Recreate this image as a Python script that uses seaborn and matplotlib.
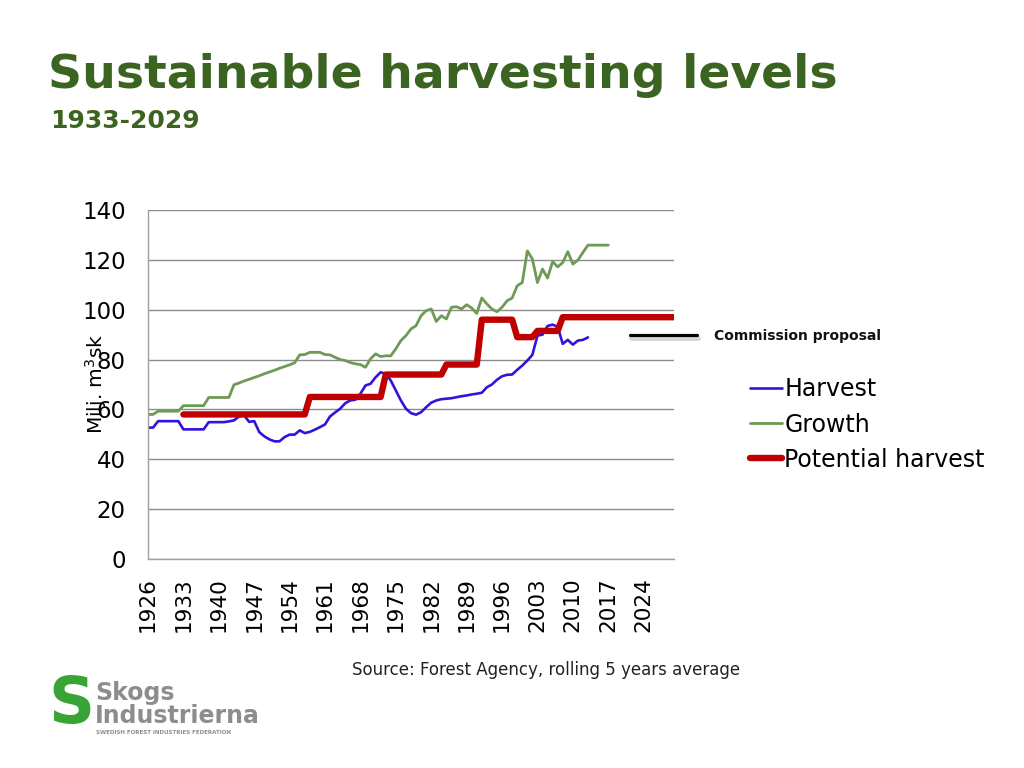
import numpy as np
import pandas as pd
import matplotlib
matplotlib.use("Agg")
import matplotlib.pyplot as plt
import seaborn as sns
from matplotlib.lines import Line2D

# ---------------- data ----------------
growth_years = list(range(1926, 2018))
growth_vals = [
    58.0, 58.0, 59.3, 59.3, 59.3, 59.3, 59.3, 61.5, 61.5, 61.5,   # 1926-1935
    61.5, 61.5, 64.8, 64.8, 64.8, 64.8, 64.8, 69.9, 70.6, 71.4,   # 1936-1945
    72.1, 72.8, 73.5, 74.3, 75.0, 75.7, 76.5, 77.2, 77.9, 78.7,   # 1946-1955
    81.9, 82.0, 82.9, 82.9, 82.9, 82.0, 81.9, 80.9, 80.0, 79.6,   # 1956-1965
    78.8, 78.3, 78.0, 76.9, 80.3, 82.3, 81.2, 81.5, 81.5, 84.3,   # 1966-1975
    87.6, 89.6, 92.3, 93.6, 97.6, 99.6, 100.3, 95.3, 97.6, 96.3,  # 1976-1985
    101.0, 101.2, 100.3, 102.0, 100.7, 98.5, 104.7, 102.3, 100.3, 99.2,  # 1986-1995
    101.0, 103.6, 104.7, 109.6, 110.9, 123.6, 120.3, 110.9, 116.3, 112.7,  # 1996-2005
    119.3, 117.2, 118.9, 123.3, 118.3, 119.9, 123.0, 125.9, 125.9, 125.9,  # 2006-2015
    125.9, 125.9,                                                   # 2016-2017
]

harvest_years = list(range(1926, 2014))
harvest_vals = [
    52.7, 52.7, 55.3, 55.3, 55.3, 55.3, 55.3, 52.0, 52.0, 52.0,   # 1926-1935
    52.0, 52.0, 54.9, 54.9, 54.9, 54.9, 55.2, 55.6, 57.2, 57.6,   # 1936-1945
    55.0, 55.3, 50.9, 49.2, 48.0, 47.2, 47.2, 48.9, 49.9, 49.9,   # 1946-1955
    51.6, 50.5, 51.0, 51.9, 52.9, 54.0, 57.2, 58.8, 60.3, 62.5,   # 1956-1965
    63.6, 63.9, 66.3, 69.6, 70.3, 72.9, 74.9, 74.3, 71.6, 67.6,   # 1966-1975
    63.6, 60.3, 58.5, 57.9, 58.9, 60.9, 62.7, 63.6, 64.1, 64.3,   # 1976-1985
    64.5, 64.9, 65.3, 65.6, 66.0, 66.3, 66.7, 68.9, 70.0, 71.9,   # 1986-1995
    73.3, 73.9, 74.0, 75.9, 77.6, 79.6, 81.9, 89.6, 90.0, 93.5,   # 1996-2005
    94.0, 93.2, 86.3, 87.9, 86.0, 87.6, 87.9, 88.9,               # 2006-2013
]

potential_years = list(range(1933, 2031))
potential_vals = (
    [58.0] * (1958 - 1933)      # 1933-1957
    + [65.0] * (1973 - 1958)    # 1958-1972
    + [74.0] * (1985 - 1973)    # 1973-1984
    + [78.0] * (1992 - 1985)    # 1985-1991
    + [96.0] * (1999 - 1992)    # 1992-1998
    + [89.0] * (2003 - 1999)    # 1999-2002
    + [91.5] * (2008 - 2003)    # 2003-2007
    + [97.0] * (2031 - 2008)    # 2008-2030
)

x_ticks = list(range(1926, 2025, 7))
y_ticks = [0, 20, 40, 60, 80, 100, 120, 140]

series_names = ["Harvest", "Growth", "Potential harvest"]
series_colors = ["#3312dd", "#6f9a55", "#c00000"]
series_widths = [1.9, 2.0, 4.6]

title = "Sustainable harvesting levels"
subtitle = "1933-2029"
source_text = "Source: Forest Agency, rolling 5 years average"

# ---------------- figure ----------------
sns.set_theme(style="white")
plt.rcParams["font.family"] = ["DejaVu Sans"]

fig = plt.figure(figsize=(10.24, 7.68), dpi=100)
fig.patch.set_facecolor("white")
ax = fig.add_axes([148 / 1024, 1 - 559 / 768, (674 - 148) / 1024, (559 - 210) / 768])

frames = {
    "Harvest": pd.DataFrame({"year": harvest_years, "value": harvest_vals}),
    "Growth": pd.DataFrame({"year": growth_years, "value": growth_vals}),
    "Potential harvest": pd.DataFrame({"year": potential_years, "value": potential_vals}),
}
for name, col, lw in zip(series_names, series_colors, series_widths):
    sns.lineplot(data=frames[name], x="year", y="value", ax=ax, color=col,
                 linewidth=lw, label=name, solid_capstyle="round",
                 solid_joinstyle="round")

ax.set_xlim(1926, 2030)
ax.set_ylim(0, 140)
ax.set_xticks(x_ticks)
ax.set_xticklabels([str(t) for t in x_ticks], rotation=90, fontsize=15.5, color="black")
ax.set_yticks(y_ticks)
ax.set_yticklabels([str(t) for t in y_ticks], fontsize=16.5, color="black")
ax.tick_params(axis="both", length=0)
ax.tick_params(axis="y", pad=16)
ax.tick_params(axis="x", pad=13)
ax.set_xlabel("")
ax.set_ylabel("")
ax.yaxis.grid(True, color="#8c8c8c", linewidth=1.0)
ax.xaxis.grid(False)
for s in ["top", "right"]:
    ax.spines[s].set_visible(False)
for s in ["left", "bottom"]:
    ax.spines[s].set_color("#a0a0a0")
    ax.spines[s].set_linewidth(1.0)

leg = ax.legend(loc="upper left", bbox_to_anchor=(741 / 1024, 1 - 368 / 768),
                bbox_transform=fig.transFigure, frameon=False, fontsize=17,
                handlelength=1.35, handletextpad=0.08, labelspacing=0.47,
                borderaxespad=0)
for t in leg.get_texts():
    t.set_color("black")

# y label overlapping tick labels like the original
fig.text(96 / 1024, 1 - 384 / 768, "Milj. m$^3$sk", rotation=90, ha="center",
         va="center", fontsize=14.5, color="black")

# commission proposal marker (outside axes)
shadow = Line2D([631 / 1024, 698 / 1024], [1 - 338 / 768, 1 - 338 / 768],
                transform=fig.transFigure, color="#bbbbbb", linewidth=3.5, alpha=0.6)
fig.add_artist(shadow)
comm = Line2D([630 / 1024, 697 / 1024], [1 - 335 / 768, 1 - 335 / 768],
              transform=fig.transFigure, color="black", linewidth=2.3)
fig.add_artist(comm)
fig.text(714 / 1024, 1 - 336 / 768, "Commission proposal", fontsize=10,
         fontweight="bold", va="center", ha="left", color="#111111")

# titles
fig.text(48 / 1024, 1 - 75 / 768, title, fontsize=34, fontweight="bold",
         color="#3b6420", ha="left", va="center")
fig.text(50 / 1024, 1 - 121 / 768, subtitle, fontsize=18, fontweight="bold",
         color="#3b6420", ha="left", va="center")

# source
fig.text(352 / 1024, 1 - 670 / 768, source_text, fontsize=12, ha="left",
         va="center", color="#222222")

# logo approximation
fig.text(48 / 1024, 1 - 705 / 768, "S", fontsize=46, fontweight="bold",
         color="#3aa335", ha="left", va="center")
fig.text(95 / 1024, 1 - 693 / 768, "Skogs", fontsize=17, fontweight="bold",
         color="#8d8d8d", ha="left", va="center",
         family=["Liberation Sans Narrow", "DejaVu Sans"])
fig.text(95 / 1024, 1 - 716 / 768, "Industrierna", fontsize=17, fontweight="bold",
         color="#8d8d8d", ha="left", va="center",
         family=["Liberation Sans Narrow", "DejaVu Sans"])
fig.text(96 / 1024, 1 - 732 / 768, "SWEDISH FOREST INDUSTRIES FEDERATION",
         fontsize=4, fontweight="bold", color="#8d8d8d", ha="left", va="center")

fig.savefig("out.png", dpi=100, facecolor="white")
